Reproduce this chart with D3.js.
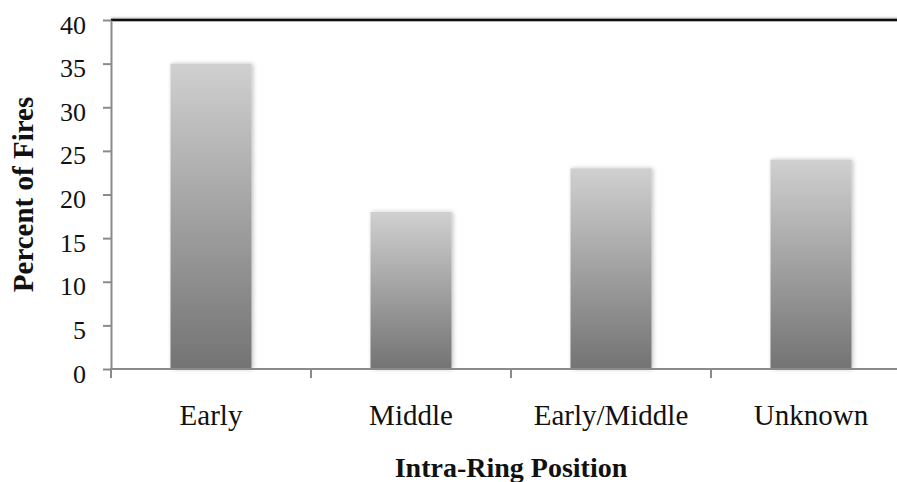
<!DOCTYPE html>
<html>
<head>
<meta charset="utf-8">
<script src="https://cdn.jsdelivr.net/npm/d3@7/dist/d3.min.js"></script>
<style>
  html, body { margin: 0; padding: 0; background: #fff; }
  svg { display: block; }
</style>
</head>
<body>
<svg id="chart" width="897" height="482"></svg>
<script>
// Share of fires by intra-ring position
const categories = ["Early", "Middle", "Early/Middle", "Unknown"];
const percentValues = [35, 18, 23, 24];
const yTicks = [0, 5, 10, 15, 20, 25, 30, 35, 40];

const svg = d3.select("#chart");
const W = 897, H = 482;
const plot = { left: 111, right: 911, top: 20, bottom: 369 };

const x = d3.scaleBand()
  .domain(categories)
  .range([plot.left, plot.right])
  .paddingInner(0.595)
  .paddingOuter(0.2975);

const y = d3.scaleLinear()
  .domain([0, 40])
  .range([plot.bottom, plot.top]);

const defs = svg.append("defs");
const grad = defs.append("linearGradient")
  .attr("id", "barFill")
  .attr("x1", 0).attr("y1", 0).attr("x2", 0).attr("y2", 1);
grad.append("stop").attr("offset", "0%").attr("stop-color", "#d0d0d0");
grad.append("stop").attr("offset", "100%").attr("stop-color", "#737373");

const shadow = defs.append("filter")
  .attr("id", "barShadow")
  .attr("x", "-20%").attr("y", "-10%")
  .attr("width", "140%").attr("height", "120%");
shadow.append("feDropShadow")
  .attr("dx", 1.5).attr("dy", 0)
  .attr("stdDeviation", 2)
  .attr("flood-color", "#000")
  .attr("flood-opacity", 0.25);

const lineShadow = defs.append("filter")
  .attr("id", "lineShadow")
  .attr("filterUnits", "userSpaceOnUse")
  .attr("x", 0).attr("y", 10)
  .attr("width", W + 20).attr("height", 20);
lineShadow.append("feDropShadow")
  .attr("dx", 0).attr("dy", -1)
  .attr("stdDeviation", 0.8)
  .attr("flood-color", "#000")
  .attr("flood-opacity", 0.3);

// Bars
svg.append("g")
  .selectAll("rect")
  .data(categories.map((c, i) => ({ cat: c, v: percentValues[i] })))
  .join("rect")
  .attr("x", d => x(d.cat))
  .attr("width", x.bandwidth())
  .attr("y", d => y(d.v))
  .attr("height", d => y(0) - y(d.v))
  .attr("fill", "url(#barFill)")
  .attr("filter", "url(#barShadow)");

// Top border of plot area
svg.append("line")
  .attr("x1", plot.left).attr("x2", W + 5)
  .attr("y1", y(40)).attr("y2", y(40))
  .attr("stroke", "#111")
  .attr("stroke-width", 2.5)
  .attr("filter", "url(#lineShadow)");

const axisColor = "#8a8a8a";

// Y axis
const yAxis = svg.append("g")
  .attr("transform", `translate(${plot.left},0)`)
  .call(d3.axisLeft(y).tickValues(yTicks).tickSize(8).tickSizeOuter(0).tickPadding(17));
yAxis.select(".domain").attr("stroke", axisColor).attr("stroke-width", 2);
yAxis.selectAll(".tick line").attr("stroke", axisColor).attr("stroke-width", 2);
yAxis.selectAll(".tick text")
  .attr("fill", "#111")
  .attr("dy", "0.5em")
  .style("font-family", "'Liberation Serif', 'Times New Roman', serif")
  .style("font-size", "26px");

// X axis with boundary ticks between categories
const xAxis = svg.append("g")
  .attr("transform", `translate(0,${plot.bottom})`);
xAxis.append("line")
  .attr("x1", plot.left - 1).attr("x2", W + 5)
  .attr("y1", 0).attr("y2", 0)
  .attr("stroke", axisColor).attr("stroke-width", 2);
const step = x.step();
const boundaries = d3.range(categories.length + 1).map(i => plot.left + i * step);
xAxis.selectAll("line.bound")
  .data(boundaries)
  .join("line")
  .attr("class", "bound")
  .attr("x1", d => d).attr("x2", d => d)
  .attr("y1", 0).attr("y2", 9)
  .attr("stroke", axisColor).attr("stroke-width", 2);
xAxis.selectAll("text.cat")
  .data(categories)
  .join("text")
  .attr("class", "cat")
  .attr("x", d => x(d) + x.bandwidth() / 2)
  .attr("y", 56)
  .attr("text-anchor", "middle")
  .attr("fill", "#111")
  .style("font-family", "'Liberation Serif', 'Times New Roman', serif")
  .style("font-size", "29px")
  .text(d => d);

// Axis titles
svg.append("text")
  .attr("x", (plot.left + plot.right) / 2)
  .attr("y", 477)
  .attr("text-anchor", "middle")
  .attr("fill", "#111")
  .style("font-family", "'Liberation Serif', 'Times New Roman', serif")
  .style("font-weight", "bold")
  .style("font-size", "28px")
  .text("Intra-Ring Position");

svg.append("text")
  .attr("transform", `translate(33,${(plot.top + plot.bottom) / 2}) rotate(-90)`)
  .attr("text-anchor", "middle")
  .attr("fill", "#111")
  .style("font-family", "'Liberation Serif', 'Times New Roman', serif")
  .style("font-weight", "bold")
  .style("font-size", "29px")
  .text("Percent of Fires");
</script>
</body>
</html>
